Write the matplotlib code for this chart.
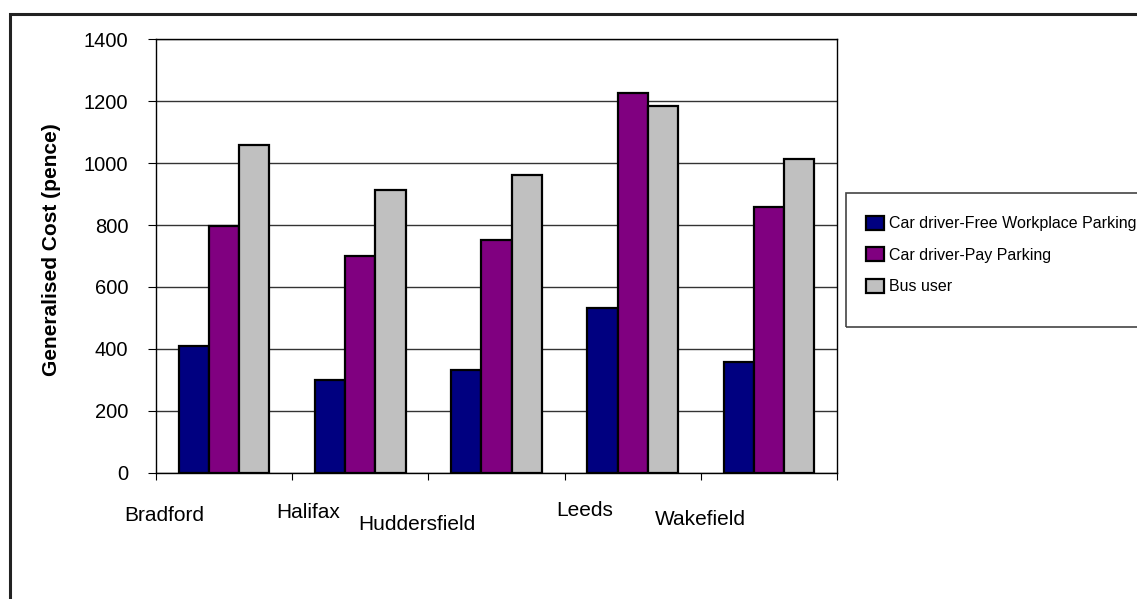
import matplotlib.pyplot as plt
import matplotlib.patches as mpatches
from matplotlib.transforms import ScaledTranslation
import numpy as np

plt.rcParams['font.family'] = ['Liberation Sans', 'DejaVu Sans']

cities = ["Bradford", "Halifax", "Huddersfield", "Leeds", "Wakefield"]
free_parking = [408, 298, 333, 532, 357]
pay_parking = [796, 699, 753, 1227, 859]
bus_user = [1060, 912, 963, 1184, 1014]
series_names = ["Car driver-Free Workplace Parking", "Car driver-Pay Parking", "Bus user"]
series_colors = ["#000080", "#800080", "#C0C0C0"]
y_ticks = [0, 200, 400, 600, 800, 1000, 1200, 1400]

# the city labels sit at odd, staggered spots under the axis (pixels)
label_shift = [(-60, 43), (-52, 40), (-80, 52), (-48, 38), (-68, 47)]

W, H = 1137, 599
fig = plt.figure(figsize=(W / 100, H / 100), dpi=100)
ax = fig.add_axes([156 / W, 1 - 472.7 / H, 681 / W, 433.4 / H])

x = np.arange(len(cities)) + 0.5
bw = 0.222
for i, vals in enumerate([free_parking, pay_parking, bus_user]):
    ax.bar(x + (i - 1) * bw, vals, bw, color=series_colors[i], edgecolor="black",
           linewidth=1.6, label=series_names[i], zorder=3)

ax.set_xlim(0, len(cities))
ax.set_ylim(0, 1400)
ax.set_yticks(y_ticks)
ax.tick_params(axis="y", labelsize=14.5, length=6, pad=14, direction="out")
ax.yaxis.grid(True, color="#333333", linewidth=1.0, zorder=0)
for s in ax.spines.values():
    s.set_color("black")
    s.set_linewidth(1.0)

ax.set_xticks(np.arange(len(cities) + 1))
ax.set_xticklabels([])
ax.tick_params(axis="x", which="major", length=5, direction="out")
ax.set_xticks(x, minor=True)
ax.set_xticklabels(cities, minor=True, fontsize=15)
ax.tick_params(axis="x", which="minor", length=0, pad=0)
for lab, (dx, dy) in zip(ax.xaxis.get_minorticklabels(), label_shift):
    lab.set_verticalalignment("center")
    lab.set_transform(lab.get_transform() + ScaledTranslation(dx / 100, -dy / 100, fig.dpi_scale_trans))

fig.text(52 / W, 1 - 249.5 / H, "Generalised Cost (pence)", rotation=90,
         ha="center", va="center", fontsize=15, fontweight="bold")

# outer chart border (runs off the right and bottom edges)
fig.patches.append(mpatches.Rectangle((10 / W, -0.1), 1.2, 1 - 14 / H + 0.1,
                                      transform=fig.transFigure, fill=False,
                                      edgecolor="#222222", linewidth=2.2, clip_on=False))
# legend frame (also cut off at the right)
fig.patches.append(mpatches.Rectangle((846 / W, 1 - 327 / H), 0.5, 134 / H,
                                      transform=fig.transFigure, fill=False,
                                      edgecolor="#444444", linewidth=1.2, clip_on=False))

handles, labels = ax.get_legend_handles_labels()
fig.legend(handles, labels, loc="center left", bbox_to_anchor=(866 / W, 1 - 255 / H),
           frameon=False, fontsize=11.5, handlelength=1.1, handleheight=1.0,
           handletextpad=0.35, labelspacing=1.0, borderpad=0, borderaxespad=0)

fig.savefig("out.png", dpi=100)
